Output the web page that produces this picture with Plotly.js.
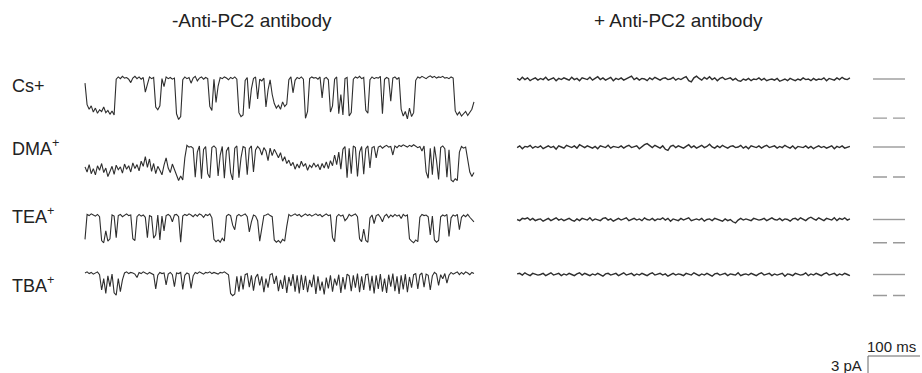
<!DOCTYPE html>
<html><head><meta charset="utf-8">
<script src="https://cdn.plot.ly/plotly-3.0.1.min.js"></script>
<style>html,body{margin:0;padding:0;background:#fff;overflow:hidden}#chart{width:922px;height:373px}</style>
</head><body><div id="chart"></div>
<script>
// ---------------- data (pA, sampled traces) ----------------
const ionLabels = ['Cs+', 'DMA<sup>+</sup>', 'TEA<sup>+</sup>', 'TBA<sup>+</sup>'];
const panelTitles = ['-Anti-PC2 antibody', '+ Anti-PC2 antibody'];
const DT_CTRL = 4;   // ms per sample, control traces
const DT_AB = 5;     // ms per sample, antibody traces
const openLevels = [-6.9, -5.3, -4.1, -3.7]; // pA, open-level markers
const scaleMs = 100, scaleMsLabel = '100 ms';
const scalePa = 3, scalePaLabel = '3 pA';

const csCtrl = [
-1.0,-4.8,-5.6,-5.0,-6.1,-5.4,-6.3,-5.7,-6.0,-5.2,
-6.2,-5.8,-6.5,-5.9,-6.6,-0.3,0.1,-0.2,0.2,-0.1,
0.0,-0.3,-0.9,-0.1,0.2,-0.2,0.1,-0.3,0.0,-2.6,
-1.2,0.1,-0.2,0.0,-5.2,-5.7,-5.0,-0.2,-1.6,0.1,
-0.2,0.0,-0.3,-0.1,-6.4,-7.4,-6.9,-0.4,0.1,-0.2,
0.0,-1.0,-0.1,0.2,-0.6,-0.1,0.1,-0.3,0.0,-0.2,
-5.1,-5.8,-0.3,-4.4,-1.5,0.0,-0.2,0.1,-0.1,-0.4,
0.0,-0.2,0.1,-0.3,-6.2,-6.9,-6.6,-0.5,0.0,-5.5,
-2.0,-0.2,0.1,-3.8,-0.3,-0.6,-0.1,-5.2,-2.2,-0.4,
-3.0,-4.6,-5.4,-4.9,-5.6,-4.3,-5.1,-4.7,-0.4,0.1,
-2.7,-0.5,0.0,-0.2,0.1,-0.3,-7.2,-6.0,-0.2,0.1,
-0.1,0.0,-0.3,0.1,-3.6,-0.2,0.0,-0.4,-6.1,-5.0,
-0.3,0.1,-6.4,-3.0,-6.6,-0.2,0.0,-6.8,-6.2,-0.3,
0.1,-0.1,0.2,-0.2,0.0,-5.8,-6.3,-0.4,0.1,-0.2,
0.0,-0.1,0.2,-6.4,-0.3,0.0,-0.2,-4.2,-0.1,0.1,
-0.3,0.0,-5.6,-6.8,-6.0,-7.3,-5.4,-6.9,-6.2,-0.5,
0.1,-0.1,0.2,0.0,-0.2,0.1,0.3,0.0,0.2,-0.1,
0.1,0.0,0.2,-0.1,0.0,-0.2,0.1,-0.1,-5.9,-6.6,
-6.1,-6.8,-6.3,-6.0,-6.7,-6.2,-5.6,-4.3];

const dmaCtrl = [
-3.6,-4.5,-3.2,-4.8,-3.9,-5.0,-3.4,-4.2,-3.0,-4.6,
-3.8,-5.3,-4.4,-3.5,-4.9,-3.3,-4.1,-3.6,-4.7,-3.1,
-4.0,-3.4,-4.5,-2.9,-3.9,-3.2,-4.3,-2.6,-3.5,-1.8,
-3.7,-2.2,-4.4,-3.0,-4.8,-3.5,-4.2,-5.0,-3.3,-2.0,
-3.8,-4.6,-3.1,-4.0,-4.9,-6.0,-5.2,-5.9,-2.0,0.2,
-0.1,0.0,-0.3,-5.4,-1.0,0.1,-5.7,-0.5,0.0,-4.8,
-5.5,-0.2,0.1,-0.3,-5.2,-1.5,0.0,-5.6,-0.8,-0.1,
-4.6,-5.9,-0.3,0.1,-5.5,-2.0,0.0,-0.2,-5.0,-0.4,
0.1,-4.5,-0.6,0.0,-0.4,-1.5,-0.2,-0.8,-2.5,-0.3,
-1.6,-0.5,-1.2,-2.0,-1.1,-2.6,-1.8,-3.0,-2.4,-3.4,
-2.8,-4.0,-3.1,-3.8,-2.6,-3.5,-3.0,-4.2,-3.3,-3.7,
-2.9,-3.6,-3.2,-4.1,-3.0,-3.8,-2.7,-3.9,-2.5,-3.4,
-1.5,-3.2,-1.0,-4.0,-0.5,0.0,-5.5,-0.3,-4.8,0.1,
-0.2,-5.3,-1.0,0.0,-4.9,-0.4,0.1,-3.8,-0.2,0.0,
-2.0,-0.1,0.1,-0.3,0.0,0.2,-0.1,0.0,-1.5,0.1,
-0.2,0.2,0.0,0.3,0.1,-0.1,0.2,0.0,0.3,0.1,
-0.2,0.0,-0.8,0.1,-4.5,-5.6,-0.3,-5.0,0.0,-2.5,
-5.8,-0.2,0.1,-0.4,-5.4,-0.6,-5.9,-6.2,-5.7,-6.0,
-1.0,0.0,-0.3,-0.1,-2.0,-4.5,-5.3,-4.6];

const teaCtrl = [
-4.3,0.1,-0.1,0.2,0.0,-0.2,0.1,-0.3,-4.5,-4.9,
-2.8,-4.6,-4.2,0.0,-0.2,-4.0,-0.1,0.1,-0.3,0.0,
0.2,-0.1,0.0,-4.2,-4.5,-0.3,0.1,-0.2,0.0,-0.4,
-4.0,-0.1,-0.3,-4.1,-3.5,0.0,-4.4,-0.2,-2.8,-0.1,
0.1,-0.2,-1.2,0.0,0.1,-0.3,-4.8,-0.2,0.1,-0.1,
0.2,0.0,-0.3,0.1,-0.2,0.2,0.0,-0.4,0.1,-0.1,
0.2,-0.5,-4.3,-4.7,-4.4,-4.8,-4.1,-4.6,-0.2,0.1,
-0.1,-1.8,-2.6,-0.2,0.1,-0.2,0.0,0.2,-0.3,-3.0,
-1.2,0.0,-0.2,-1.0,-4.6,-2.5,-0.1,0.0,0.2,-0.1,
-0.3,-4.4,-4.8,-4.5,-4.9,-4.3,-4.6,-2.0,0.1,-0.2,
0.0,0.2,-0.1,0.1,-0.3,0.0,0.2,-0.1,0.1,-0.2,
0.0,0.2,-0.1,0.1,-0.3,0.0,0.2,-0.1,0.0,-4.0,
-4.7,-0.3,0.1,-0.2,0.0,-1.0,-0.6,0.1,-0.2,0.0,
0.2,-0.3,-4.2,-4.7,-2.5,-4.5,-4.8,-0.5,0.0,-1.5,
-0.1,0.1,-0.4,-1.2,-0.2,0.1,-0.5,0.0,-0.3,0.1,
-0.2,0.0,-0.6,0.1,-0.2,0.0,-4.2,-4.6,-4.9,-4.4,
-4.7,-0.4,0.1,-0.1,0.0,-0.3,-3.5,-0.2,-4.4,-4.8,
-4.5,-0.3,0.0,-0.2,0.1,-3.8,-0.5,0.0,-0.2,0.1,
-2.6,-0.4,0.0,-0.3,0.1,-0.4,-0.8,-1.2];

const tbaCtrl = [
0.0,0.2,-0.1,0.1,-0.2,0.0,0.2,-0.3,-3.0,-1.0,
-3.6,-0.5,-2.4,-0.2,-3.5,-3.9,-1.0,-3.3,-1.2,0.0,
0.2,-0.1,0.1,0.0,-0.2,-0.8,0.1,-0.1,0.2,0.0,
-0.2,0.1,-0.1,-0.3,-2.8,-0.4,0.1,-0.1,0.0,-2.1,
-0.2,0.1,-0.3,-2.4,0.0,-0.1,0.1,-2.9,-0.4,0.0,
-0.2,-2.7,-0.5,0.1,-0.1,0.2,0.0,-0.2,0.1,0.0,
0.2,-0.1,0.1,0.0,-0.2,0.1,0.0,0.2,-0.1,-0.3,
-3.6,-4.0,-3.7,-0.6,-3.3,-0.5,-2.9,-0.3,-0.1,-2.5,
-0.4,-3.1,-0.8,-0.2,-2.2,-0.6,-3.4,-1.0,-2.6,-0.3,
-0.1,-1.9,-0.5,-3.2,-1.2,-2.8,-0.4,-3.5,-0.7,-2.3,
-0.2,-3.3,-0.4,-3.6,-0.3,-3.0,-0.5,-3.4,-1.2,-2.5,
-0.3,-3.7,-0.6,-3.1,-1.5,-3.8,-0.8,-2.7,-0.4,-3.3,
-1.0,-2.2,-0.3,-3.5,-0.7,-2.9,-0.2,-0.5,-3.2,-0.4,
-2.6,-0.1,-3.4,-0.6,-3.0,-0.3,-0.2,-3.1,-0.5,-3.6,
-0.4,-2.8,-0.2,-3.3,-1.0,-3.5,-0.3,-2.4,-0.1,-3.2,
-0.6,-3.7,-0.4,-2.9,-0.2,-3.4,-0.7,-2.6,-0.3,-0.1,
-2.8,-0.3,0.0,-2.5,-0.2,-0.4,-3.0,-0.5,0.1,-0.2,
-2.2,-0.3,-1.0,-0.1,-1.8,-0.4,0.1,-0.2,0.0,0.2,
-0.3,0.1,-0.2,0.2,0.0,-0.3,0.1,-0.1];

const csAb = [
0.1,-0.2,0.3,-0.1,0.2,-0.3,0.0,0.2,-0.2,0.1,-0.1,0.3,-0.2,0.0,0.2,-0.3,0.1,-0.1,0.2,0.0,
-0.2,0.3,-0.1,0.1,-0.3,0.2,0.0,-0.1,0.3,-0.2,0.1,0.4,-0.1,0.2,-0.2,0.0,0.3,-0.3,0.1,-0.1,
0.2,-0.2,0.0,0.3,0.5,-0.1,0.2,-0.2,0.1,0.0,-0.3,0.2,-0.1,0.3,0.0,-0.2,0.1,0.2,-0.1,0.0,
0.3,-0.2,0.1,-0.1,0.2,0.4,-0.3,-0.5,0.2,0.5,0.1,-0.2,0.3,0.0,0.4,-0.1,0.2,-0.3,0.1,0.3,
-0.1,0.0,0.2,-0.2,0.1,-0.3,-0.4,0.0,-0.2,0.1,-0.3,0.0,-0.1,0.2,-0.2,0.1,-0.3,-0.1,0.0,-0.2,
0.1,-0.4,-0.2,0.0,-0.3,0.1,-0.1,-0.3,0.0,-0.2,0.2,-0.1,0.0,-0.3,0.1,-0.2,0.0,-0.1,0.2,-0.3,
0.1,0.0,-0.2,0.2,-0.1,0.3,0.0,-0.1,0.2];

const dmaAb = [
-0.1,0.2,-0.3,0.1,0.0,0.3,-0.2,0.1,-0.1,0.2,-0.3,0.0,0.2,-0.1,0.1,-0.4,0.2,0.0,-0.2,0.3,
0.1,-0.1,0.2,-0.2,0.4,0.1,-0.1,0.2,0.0,-0.2,0.1,-0.3,0.2,0.0,-0.1,0.3,-0.2,0.1,0.0,-0.1,
0.2,-0.2,0.1,0.3,-0.1,0.0,0.2,-0.3,0.1,0.4,0.6,0.2,-0.1,0.3,0.0,-0.2,0.2,-0.4,-0.6,0.1,
0.3,-0.1,0.2,0.0,-0.2,0.1,0.4,-0.1,0.2,-0.2,0.0,0.3,-0.1,0.1,0.5,0.0,-0.2,0.2,-0.1,0.3,
0.0,-0.2,0.1,0.2,-0.1,0.0,0.3,-0.2,0.1,-0.3,0.2,0.0,-0.1,0.2,-0.2,0.1,0.3,-0.1,0.0,0.2,
-0.2,0.1,-0.1,0.3,0.0,-0.2,0.2,-0.3,0.1,0.0,-0.1,0.2,-0.2,0.1,-0.3,0.0,0.2,-0.1,0.1,-0.2,
0.0,0.2,-0.3,0.1,-0.1,0.2,-0.2,0.0,0.1];

const teaAb = [
0.0,-0.2,0.2,0.1,0.3,-0.1,0.2,-0.2,0.0,0.1,-0.3,-0.1,0.2,-0.2,0.0,0.3,-0.1,0.1,-0.2,0.0,
0.2,-0.1,-0.3,0.1,-0.2,0.2,0.0,-0.1,0.3,-0.2,0.1,0.0,-0.2,0.2,0.3,-0.1,0.1,-0.3,0.0,0.2,
-0.1,0.1,0.3,-0.2,0.0,0.2,-0.1,0.1,-0.2,0.3,0.0,-0.1,0.2,-0.2,0.1,0.0,0.3,-0.1,0.2,-0.3,
0.1,0.0,-0.2,0.2,-0.1,0.1,0.3,-0.2,0.0,0.1,-0.1,0.2,-0.3,0.0,0.1,-0.2,0.2,0.0,-0.1,-0.3,
0.1,-0.2,0.0,-0.4,-0.6,-0.1,0.2,-0.1,0.1,0.0,-0.2,0.2,0.1,-0.1,0.0,0.2,-0.2,0.1,0.3,0.0,
-0.1,0.2,-0.2,0.1,0.0,-0.3,0.1,0.2,-0.1,0.3,0.0,-0.2,0.2,0.4,0.1,-0.1,0.3,0.0,-0.2,0.2,
0.1,-0.1,0.3,-0.2,0.2,0.0,0.3,-0.1,0.1];

const tbaAb = [
0.1,0.2,-0.1,0.3,0.0,-0.2,0.2,0.1,-0.1,0.0,0.2,-0.2,0.1,0.3,-0.1,0.0,0.2,-0.2,0.1,-0.1,
0.2,0.0,-0.2,0.1,0.3,-0.1,0.2,0.0,-0.2,0.1,-0.1,0.2,0.0,-0.3,0.1,0.2,-0.1,0.0,0.2,-0.2,
0.1,0.3,-0.1,0.0,0.2,-0.2,0.1,-0.1,0.2,0.0,-0.2,0.1,0.3,-0.1,0.0,0.2,-0.1,0.1,-0.3,0.0,
0.2,-0.1,0.1,0.0,-0.2,0.2,0.1,-0.1,0.3,0.0,-0.2,0.1,-0.1,0.2,0.0,-0.3,0.1,0.2,-0.1,0.0,
0.2,-0.2,0.1,0.0,-0.1,0.3,-0.2,0.0,0.1,-0.1,0.2,0.0,-0.2,0.1,0.3,-0.1,0.0,0.2,-0.2,0.1,
-0.1,0.0,0.2,-0.3,0.1,0.0,-0.2,0.2,0.1,-0.1,0.0,0.3,-0.2,0.1,-0.1,0.2,0.0,-0.2,0.1,0.3,
-0.1,0.0,0.2,-0.2,0.1,-0.1,0.2,0.0,-0.2];

// ---------------- layout geometry ----------------
const W = 922, H = 373;
const X0_PX = 85, PX_PER_MS = 0.52, PX_PER_PA = 5.667;
const AB_T0 = 831; // ms offset of the antibody panel
const ctrlRowPx = [77.5, 146.5, 215, 273];
const abRowPx = [79, 147, 219.5, 274.5];
const labelRowPx = [86, 147, 215, 284];
const ctrlSets = [csCtrl, dmaCtrl, teaCtrl, tbaCtrl];
const abSets = [csAb, dmaAb, teaAb, tbaAb];
const FONT = 'Liberation Sans, Arial, Helvetica, sans-serif';
const TRACE_COLOR = '#2e2e2e';

const pxToMs = px => (px - X0_PX) / PX_PER_MS;
const rowBase = px => -px / PX_PER_PA;

const data = [];
function addTrace(vals, dt, t0, rowPx, width) {
  const base = rowBase(rowPx);
  data.push({
    type: 'scatter', mode: 'lines', hoverinfo: 'skip',
    x: vals.map((v, i) => t0 + i * dt),
    y: vals.map(v => base + v),
    line: {color: TRACE_COLOR, width: width}
  });
}
ctrlSets.forEach((s, r) => addTrace(s, DT_CTRL, 0, ctrlRowPx[r], 1.1));
abSets.forEach((s, r) => addTrace(s, DT_AB, AB_T0, abRowPx[r], 1.4));

// closed (solid) / open (dashed) level markers
const mx = [pxToMs(873), pxToMs(905)];
abRowPx.forEach((px, r) => {
  const base = rowBase(px);
  data.push({type: 'scatter', mode: 'lines', hoverinfo: 'skip', x: mx, y: [base, base],
    line: {color: '#9a9a9a', width: 1.4}});
  data.push({type: 'scatter', mode: 'lines', hoverinfo: 'skip', x: mx,
    y: [base + openLevels[r], base + openLevels[r]],
    line: {color: '#9a9a9a', width: 1.4, dash: '14px,6px'}});
});

// scale bar
const sbT = pxToMs(868), sbY = rowBase(356);
data.push({type: 'scatter', mode: 'lines', hoverinfo: 'skip',
  x: [sbT + scaleMs, sbT, sbT], y: [sbY, sbY, sbY - scalePa],
  line: {color: '#666', width: 1}});

const ann = [];
const P = (px, py) => ({x: px / W, y: 1 - py / H});
ann.push(Object.assign(P(252, 20), {text: panelTitles[0], xanchor: 'center', yanchor: 'middle', font: {size: 19}}));
ann.push(Object.assign(P(678, 20), {text: panelTitles[1], xanchor: 'center', yanchor: 'middle', font: {size: 19}}));
ionLabels.forEach((t, r) => {
  ann.push(Object.assign(P(10, labelRowPx[r]), {text: t, xanchor: 'left', yanchor: 'middle', font: {size: 18}}));
});
ann.push(Object.assign(P(865, 357), {text: scaleMsLabel, xanchor: 'left', yanchor: 'bottom', font: {size: 15}}));
ann.push(Object.assign(P(864, 365), {text: scalePaLabel, xanchor: 'right', yanchor: 'middle', font: {size: 15}}));
ann.forEach(a => { a.xref = 'paper'; a.yref = 'paper'; a.showarrow = false;
  a.font = Object.assign({family: FONT, color: '#222'}, a.font); });

const layout = {
  width: W, height: H, margin: {l: 0, r: 0, t: 0, b: 0, pad: 0},
  paper_bgcolor: '#fff', plot_bgcolor: '#fff', showlegend: false,
  xaxis: {range: [pxToMs(0), pxToMs(W)], visible: false, fixedrange: true},
  yaxis: {range: [rowBase(H), 0], visible: false, fixedrange: true},
  annotations: ann
};
Plotly.newPlot('chart', data, layout, {staticPlot: true, displayModeBar: false});
</script></body></html>
